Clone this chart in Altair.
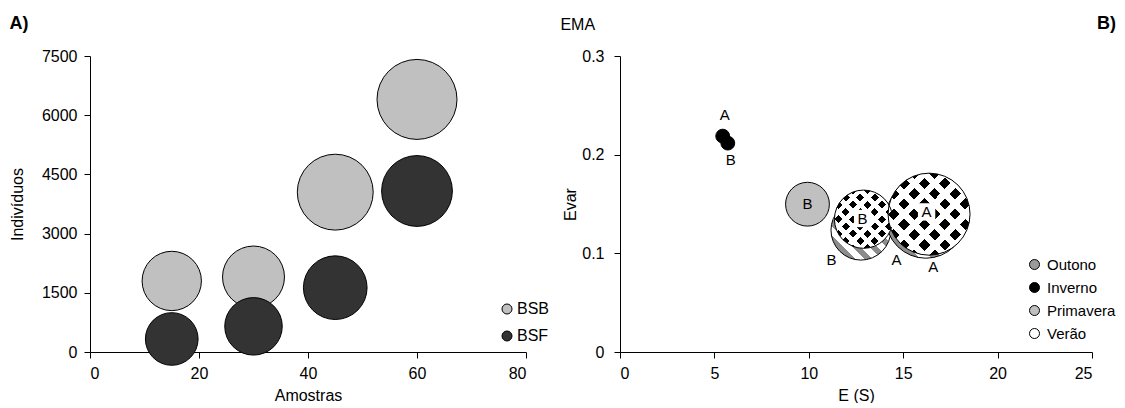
import altair as alt
import pandas as pd

FONT = "Liberation Sans, Arial, Helvetica, sans-serif"

# ---------------- Panel A data ----------------
amostras = [15, 30, 45, 60, 15, 30, 45, 60]
individuos = [1800, 1900, 4050, 6400, 330, 650, 1630, 4080]
tamanho_a = [33, 36, 54, 60, 26, 31, 38, 47]
grupo = ["BSB", "BSB", "BSB", "BSB", "BSF", "BSF", "BSF", "BSF"]

# ---------------- Panel B data ----------------
estacao = ["Outono", "Outono", "Inverno", "Inverno", "Primavera", "Verão", "Verão"]
local = ["B", "A", "A", "B", "B", "B", "A"]
e_s = [12.76, 16.2, 5.44, 5.71, 9.93, 12.9, 16.37]
evar = [0.1235, 0.1356, 0.2188, 0.2117, 0.1498, 0.1346, 0.1397]
tamanho_b = [56, 100, 3, 3, 30, 53, 105]

# data labels of panel B
rotulo = ["A", "B", "B", "B", "A", "B", "A", "A"]
rotulo_x = [5.55, 5.87, 9.93, 12.85, 16.24, 11.2, 14.65, 16.59]
rotulo_y = [0.2405, 0.1945, 0.1498, 0.1353, 0.142, 0.093, 0.0937, 0.0862]
rotulo_caixa = [False, False, False, True, True, False, False, False]

estacoes = ["Outono", "Inverno", "Primavera", "Verão"]


def stripes(c1, c2, n, duty, x1, y1, x2, y2):
    stops = []
    for k in range(n):
        a = k / n
        b = (k + duty) / n
        c = (k + 1) / n
        stops += [
            alt.GradientStop(offset=a, color=c1),
            alt.GradientStop(offset=b, color=c1),
            alt.GradientStop(offset=b, color=c2),
            alt.GradientStop(offset=c, color=c2),
        ]
    return alt.LinearGradient(gradient="linear", stops=stops, x1=x1, y1=y1, x2=x2, y2=y2)


outono_fill = stripes("#8c8c8c", "#ffffff", 7, 0.5, 0, 1, 1, 0)
verao_fill1 = stripes("#000000", "#ffffff", 8, 0.55, 0, 0, 1, 1)
verao_fill2 = stripes("rgba(255,255,255,0)", "#ffffff", 8, 0.55, 0, 1, 1, 0)

panel_title = dict(frame="bounds", fontWeight="bold", fontSize=18, font=FONT,
                   color="black", offset=15)

# ---------------- Panel A ----------------
df_a = pd.DataFrame({"Amostras": amostras, "Individuos": individuos,
                     "Tamanho": tamanho_a, "Grupo": grupo})

left = alt.Chart(df_a).mark_circle(opacity=1, stroke="black", strokeWidth=1).encode(
    x=alt.X("Amostras:Q", scale=alt.Scale(domain=[0, 80], nice=False),
            axis=alt.Axis(values=[0, 20, 40, 60, 80], title="Amostras")),
    y=alt.Y("Individuos:Q", scale=alt.Scale(domain=[0, 7500], nice=False),
            axis=alt.Axis(values=[0, 1500, 3000, 4500, 6000, 7500], format="d",
                          title="Indivíduos", labelPadding=7, titlePadding=16)),
    size=alt.Size("Tamanho:Q", scale=alt.Scale(domain=[0, 60], range=[0, 6400]), legend=None),
    fill=alt.Fill("Grupo:N", scale=alt.Scale(domain=["BSB", "BSF"], range=["#C0C0C0", "#333333"]),
                  legend=alt.Legend(title=None, orient="none", legendX=409, legendY=245,
                                    symbolType="circle", symbolSize=100, symbolStrokeColor="black",
                                    symbolStrokeWidth=1, rowPadding=11, labelOffset=2,
                                    labelFontSize=16, labelFont=FONT, labelColor="black", padding=0)),
    order=alt.Order("Grupo:N", sort="ascending"),
).properties(width=436, height=296,
             title=alt.TitleParams("A)", anchor="start", **panel_title))

# ---------------- Panel B ----------------
df_b = pd.DataFrame({"Estacao": estacao, "Local": local, "E": e_s, "Evar": evar,
                     "Tamanho": tamanho_b})
df_l = pd.DataFrame({"Rotulo": rotulo, "E": rotulo_x, "Evar": rotulo_y, "Caixa": rotulo_caixa})

xb = alt.X("E:Q", scale=alt.Scale(domain=[0, 25], nice=False),
           axis=alt.Axis(values=[0, 5, 10, 15, 20, 25], title="E (S)"))
yb = alt.Y("Evar:Q", scale=alt.Scale(domain=[0, 0.3], nice=False),
           axis=alt.Axis(values=[0, 0.1, 0.2, 0.3], format="~g", title="Evar",
                         labelPadding=10, titlePadding=3))
sb = alt.Size("Tamanho:Q", scale=alt.Scale(domain=[0, 100], range=[0, 6400]), legend=None)

base = alt.Chart(df_b).encode(x=xb, y=yb, size=sb)

outono = base.transform_filter("datum.Estacao == 'Outono'").mark_circle(
    fill=outono_fill, opacity=1, stroke="black", strokeWidth=1)
inverno = base.transform_filter("datum.Estacao == 'Inverno'").mark_circle(
    fill="#000000", opacity=1, stroke="black", strokeWidth=1)
primavera = base.transform_filter("datum.Estacao == 'Primavera'").mark_circle(
    fill="#C0C0C0", opacity=1, stroke="black", strokeWidth=1)
verao1 = base.transform_filter("datum.Estacao == 'Verão'").mark_circle(
    fill=verao_fill1, opacity=1, strokeWidth=0)
verao2 = base.transform_filter("datum.Estacao == 'Verão'").mark_circle(
    fill=verao_fill2, opacity=1, stroke="black", strokeWidth=1)

caixas = alt.Chart(df_l).transform_filter("datum.Caixa").mark_square(
    color="white", opacity=1, size=300).encode(x=xb, y=yb)
textos = alt.Chart(df_l).mark_text(font=FONT, fontSize=15, color="black",
                                   baseline="middle", align="center").encode(
    x=xb, y=yb, text="Rotulo:N")

legenda = alt.Chart(df_b).transform_filter("false").mark_circle(
    opacity=1, stroke="black", strokeWidth=1).encode(
    x=xb, y=yb,
    fill=alt.Fill("Estacao:N", scale=alt.Scale(domain=estacoes,
                                                range=["#9a9a9a", "#000000", "#C0C0C0", "#ffffff"]),
                  legend=alt.Legend(title=None, orient="none", legendX=407, legendY=201,
                                    symbolType="circle", symbolSize=100, symbolStrokeColor="black",
                                    symbolStrokeWidth=1, rowPadding=7, labelOffset=5,
                                    labelFontSize=15, labelFont=FONT, labelColor="black", padding=0)),
)

right = alt.layer(outono, inverno, primavera, verao1, verao2, caixas, textos, legenda).properties(
    width=472, height=296,
    title=alt.TitleParams("B)", anchor="end", **panel_title))

chart = alt.hconcat(left, right, spacing=12).resolve_scale(
    fill="independent", size="independent").resolve_legend(fill="independent").properties(
    title=alt.TitleParams("EMA", anchor="middle", fontSize=16, fontWeight="normal",
                          font=FONT, color="black", dy=22, dx=15),
    padding={"left": 1, "top": 7, "right": 0, "bottom": 0},
).configure_axis(
    labelFont=FONT, titleFont=FONT, labelFontSize=16, titleFontSize=16,
    labelColor="black", titleColor="black", domainColor="black", tickColor="black",
    tickSize=6, grid=False, titleFontWeight="normal",
).configure_axisX(
    labelPadding=7, titlePadding=6,
).configure_view(stroke=None)

chart.save("out.html", embed_options={"renderer": "svg", "actions": False})
